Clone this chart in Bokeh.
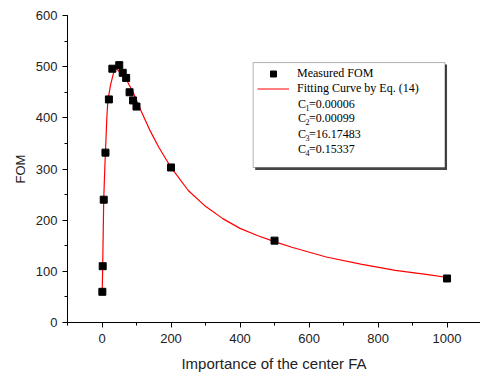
from bokeh.plotting import figure
from bokeh.models import (Range1d, SingleIntervalTicker, BoxAnnotation, Label,
                          Legend, LegendItem)
from bokeh.embed import file_html
from bokeh.resources import INLINE

# Measured FOM
meas_x = [1, 2, 5, 10, 20, 30, 50, 60, 70, 80, 90, 100, 200, 500, 1000]
meas_y = [60, 110, 240, 332, 436, 496, 503, 488, 478, 450, 434, 422, 303, 160, 86]

# Fitting curve
fit_x = [0.5, 2, 5, 8, 11, 14, 17, 25, 37, 45, 60, 72, 90, 113, 140, 165, 200,
         250, 300, 350, 400, 450, 500, 550, 650, 750, 850, 950, 1000]
fit_y = [55, 110, 240, 300, 350, 400, 434, 465, 497, 494, 484, 473, 450, 414,
         374, 342, 303, 258, 227, 203, 184, 170, 158, 147, 128, 114, 102, 93, 88]

legend_labels = ["Measured FOM", "Fitting Curve by Eq. (14)"]
coef_subs = ["1", "2", "3", "4"]
coef_vals = ["=0.00006", "=0.00099", "=16.17483", "=0.15337"]

p = figure(width=480, height=374, output_backend="svg", toolbar_location=None,
           x_range=Range1d(-100, 1097), y_range=Range1d(0, 600),
           min_border_left=67, min_border_right=0, min_border_top=15,
           min_border_bottom=52)
p.outline_line_color = None
p.xgrid.visible = False
p.ygrid.visible = False
p.background_fill_color = "white"

for ax in (p.xaxis[0], p.yaxis[0]):
    ax.axis_line_color = "black"
    ax.major_tick_line_color = "black"
    ax.minor_tick_line_color = "black"
    ax.major_tick_in = 0
    ax.major_tick_out = 5
    ax.minor_tick_in = 0
    ax.minor_tick_out = 3
    ax.major_label_text_font = "Liberation Sans"
    ax.major_label_text_font_size = "13px"
    ax.major_label_text_color = "#222222"
    ax.axis_label_text_font = "Liberation Sans"
    ax.axis_label_text_font_style = "normal"
    ax.axis_label_text_color = "#222222"

p.xaxis.ticker = SingleIntervalTicker(interval=200, num_minor_ticks=2)
p.yaxis.ticker = SingleIntervalTicker(interval=100, num_minor_ticks=2)
p.xaxis.major_label_standoff = 6
p.yaxis.major_label_standoff = 5
p.xaxis.axis_label = "Importance of the center FA"
p.xaxis.axis_label_text_font_size = "15px"
p.xaxis.axis_label_standoff = 9
p.yaxis.axis_label = "FOM"
p.yaxis.axis_label_text_font_size = "13px"
p.yaxis.axis_label_standoff = 5

line_r = p.line(fit_x, fit_y, line_color="#ff0000", line_width=1.2)
pts_r = p.scatter(meas_x, meas_y, marker="square", size=7, color="black")

# Legend box with drop shadow (data coordinates)
shadow = BoxAnnotation(left=444, right=1000, top=504, bottom=298,
                       fill_color="#444444", fill_alpha=1.0, line_color=None)
box = BoxAnnotation(left=438, right=994, top=508, bottom=303,
                    fill_color="white", fill_alpha=1.0, line_color="black",
                    line_width=1)
p.add_layout(shadow)
p.add_layout(box)

legend = Legend(items=[LegendItem(label=legend_labels[0], renderers=[pts_r]),
                       LegendItem(label=legend_labels[1], renderers=[line_r])],
                location=(190, 226), orientation="vertical",
                border_line_color=None, background_fill_alpha=0,
                padding=0, margin=0, spacing=0,
                glyph_width=32, glyph_height=15, label_height=15,
                label_standoff=8,
                label_text_font="Liberation Serif", label_text_font_size="12px",
                label_text_color="black")
p.add_layout(legend, "center")

row_y = [428, 399, 369, 340]
for sub, val, yy in zip(coef_subs, coef_vals, row_y):
    p.add_layout(Label(x=568, y=yy, text="C", text_font="Liberation Serif",
                       text_font_size="12px", text_baseline="middle",
                       text_color="black"))
    p.add_layout(Label(x=568, y=yy, x_offset=7.5, y_offset=-4, text=sub,
                       text_font="Liberation Serif", text_font_size="8px",
                       text_baseline="middle", text_color="black"))
    p.add_layout(Label(x=568, y=yy, x_offset=11, text=val,
                       text_font="Liberation Serif", text_font_size="12px",
                       text_baseline="middle", text_color="black"))

open("out.html", "w").write(file_html(p, INLINE))
